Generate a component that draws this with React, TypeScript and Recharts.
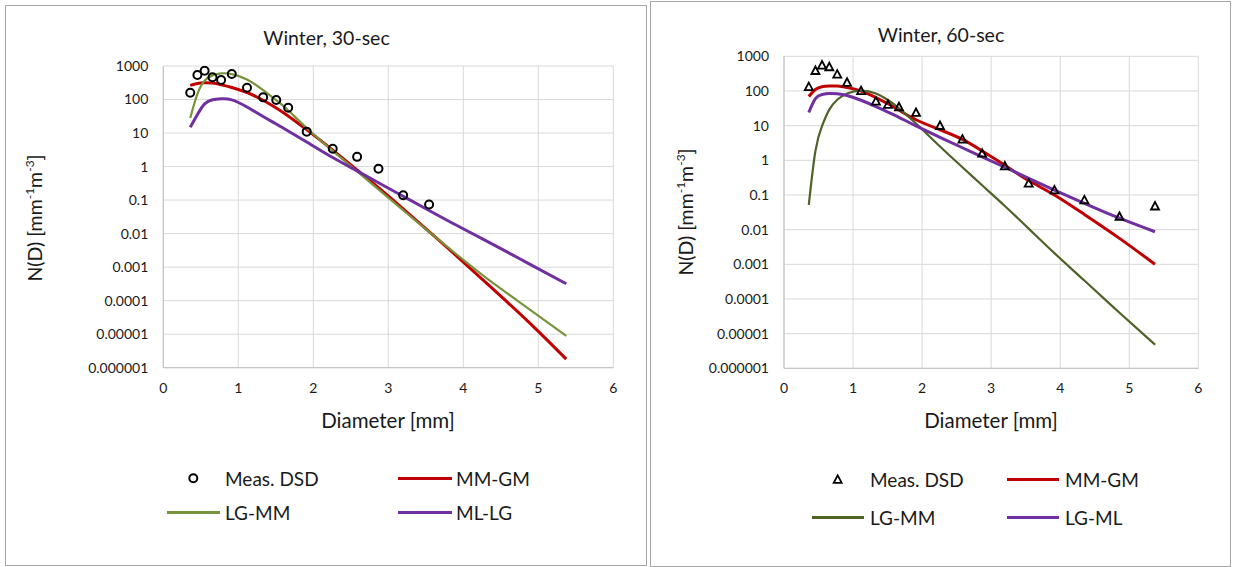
import React from "react";
import { ComposedChart, Line, Scatter, XAxis, YAxis, CartesianGrid } from "recharts";

// Joss-Waldvogel bin centres [mm]
const diameters = [0.359, 0.455, 0.551, 0.656, 0.771, 0.913, 1.116, 1.331, 1.506, 1.665, 1.912, 2.259, 2.584, 2.869, 3.198, 3.544, 3.916, 4.35, 4.859, 5.373];

// Winter, 30-sec
const meas30 = [160, 540, 720, 460, 380, 580, 225, 116, 97, 57, 11, 3.4, 1.95, 0.86, 0.14, 0.074];
const mmgm30 = [263, 302, 316, 309, 275, 229, 162, 95.5, 56, 32.4, 12.6, 3.1, 0.79, 0.234, 0.055, 0.0115, 0.0021, 0.000275, 0.0000245, 0.0000018];
const lgmm30 = [28, 148, 363, 525, 603, 575, 398, 190, 95, 48, 14.1, 2.95, 0.72, 0.21, 0.05, 0.0112, 0.00234, 0.0004, 0.00006, 0.0000089];
const mllg30 = [14.8, 35.5, 74, 98, 105, 98, 60, 31, 18.6, 11.5, 5.4, 1.86, 0.74, 0.33, 0.13, 0.049, 0.0174, 0.0054, 0.00132, 0.00032];
const names30 = ["Meas. DSD", "MM-GM", "LG-MM", "ML-LG"];

// Winter, 60-sec
const meas60 = [133, 390, 560, 500, 307, 178, 102, 51, 41, 35, 24, 10.1, 4.1, 1.6, 0.69, 0.22, 0.14, 0.072, 0.024, 0.048];
const mmgm60 = [69, 110, 132, 138, 138, 126, 100, 64.6, 42.7, 28.2, 14.8, 7.6, 4.0, 1.86, 0.72, 0.26, 0.1, 0.0275, 0.0056, 0.001];
const lgmm60 = [0.052, 1.86, 9.8, 29, 56, 85, 102, 85, 55, 31.6, 11.5, 2.5, 0.63, 0.19, 0.048, 0.0107, 0.0021, 0.00034, 0.00004, 0.0000048];
const lgml60 = [24, 60, 79, 85, 83, 74, 54, 35.5, 24.5, 17.4, 9.8, 4.6, 2.3, 1.26, 0.63, 0.3, 0.138, 0.0575, 0.0214, 0.0087];
const names60 = ["Meas. DSD", "MM-GM", "LG-MM", "LG-ML"];

const xTicks = [0, 1, 2, 3, 4, 5, 6];
const yTicks = [0.000001, 0.00001, 0.0001, 0.001, 0.01, 0.1, 1, 10, 100, 1000];
const yTickLabels = ["0.000001", "0.00001", "0.0001", "0.001", "0.01", "0.1", "1", "10", "100", "1000"];

const FONT = "Lato, 'Open Sans', sans-serif";
const TXT = "#1a1a1a";
const RED = "#C00000";
const PURPLE = "#7030A0";

const Ring = (p: any) => <circle cx={p.cx} cy={p.cy} r={4} fill="none" stroke="#000" strokeWidth={2} />;
const Tri = (p: any) => (
  <path d={`M${p.cx},${p.cy - 4} L${p.cx + 4},${p.cy + 3.5} L${p.cx - 4},${p.cy + 3.5} Z`} fill="none" stroke="#000" strokeWidth={1.8} />
);

type Cfg = {
  title: string;
  meas: number[];
  fits: number[][];
  names: string[];
  green: string;
  greenWidth: number;
  marker: "ring" | "tri";
  box: { left: number; top: number; width: number; height: number };
  plot: { left: number; top: number; width: number; height: number };
  titlePos: [number, number];
  xTitlePos: [number, number];
  yTitlePos: [number, number];
  legend: { rows: [number, number]; col1: [number, number, number]; col2: [number, number, number] };
};

function Swatch({ x1, x2, y, color, w }: { x1: number; x2: number; y: number; color: string; w: number }) {
  return <div style={{ position: "absolute", left: x1, top: y - w / 2, width: x2 - x1, height: w, background: color }} />;
}

function Label({ x, y, text, size, anchor = "middle" }: { x: number; y: number; text: React.ReactNode; size: number; anchor?: string }) {
  const tx = anchor === "middle" ? "-50%" : "0";
  return (
    <div style={{ position: "absolute", left: x, top: y, transform: `translate(${tx},-50%)`, fontSize: size, lineHeight: 1, whiteSpace: "nowrap", color: TXT }}>
      {text}
    </div>
  );
}

function DsdChart({ cfg }: { cfg: Cfg }) {
  const cw = cfg.box.width - 2;
  const ch = cfg.box.height - 2;
  const data = diameters.map((d, i) => ({ d, a: cfg.fits[0][i], b: cfg.fits[1][i], c: cfg.fits[2][i] }));
  const meas = cfg.meas.map((m, i) => ({ d: diameters[i], m }));
  const p = cfg.plot;
  const margin = { top: p.top, left: 0, right: cw - p.left - p.width, bottom: ch - p.top - p.height - 30 };
  const lg = cfg.legend;
  return (
    <div
      style={{
        position: "absolute",
        left: cfg.box.left,
        top: cfg.box.top,
        width: cfg.box.width,
        height: cfg.box.height,
        boxSizing: "border-box",
        border: "1px solid #a6a6a6",
        background: "#fff",
      }}
    >
      <ComposedChart width={cw} height={ch} data={data} margin={margin}>
        <CartesianGrid stroke="#d9d9d9" strokeWidth={1} />
        <XAxis
          type="number"
          dataKey="d"
          domain={[0, 6]}
          ticks={xTicks}
          allowDataOverflow
          height={30}
          tickLine={false}
          axisLine={{ stroke: "#bfbfbf" }}
          tickMargin={9}
          tick={{ fill: TXT, fontSize: 14, fontFamily: FONT }}
        />
        <YAxis
          scale="log"
          domain={[0.000001, 1000]}
          ticks={yTicks}
          allowDataOverflow
          width={p.left}
          tickLine={false}
          axisLine={{ stroke: "#bfbfbf" }}
          tickMargin={9}
          tickFormatter={(v: number) => yTickLabels[yTicks.indexOf(v)] ?? String(v)}
          tick={{ fill: TXT, fontSize: 14, fontFamily: FONT }}
        />
        <Scatter data={meas} dataKey="m" isAnimationActive={false} shape={cfg.marker === "ring" ? Ring : Tri} />
        <Line type="natural" dataKey="a" stroke={RED} strokeWidth={3} dot={false} isAnimationActive={false} />
        <Line type="natural" dataKey="b" stroke={cfg.green} strokeWidth={cfg.greenWidth} dot={false} isAnimationActive={false} />
        <Line type="natural" dataKey="c" stroke={PURPLE} strokeWidth={3} dot={false} isAnimationActive={false} />
      </ComposedChart>

      <Label x={cfg.titlePos[0]} y={cfg.titlePos[1]} text={cfg.title} size={19.5} />
      <Label x={cfg.xTitlePos[0]} y={cfg.xTitlePos[1]} text="Diameter [mm]" size={20.5} />
      <div
        style={{
          position: "absolute",
          left: cfg.yTitlePos[0],
          top: cfg.yTitlePos[1],
          transform: "translate(-50%,-50%) rotate(-90deg)",
          fontSize: 19.5,
          lineHeight: 1,
          whiteSpace: "nowrap",
          color: TXT,
        }}
      >
        N(D) [mm<sup style={{ fontSize: 12 }}>-1</sup>m<sup style={{ fontSize: 12 }}>-3</sup>]
      </div>

      {/* legend */}
      <svg style={{ position: "absolute", left: 0, top: 0 }} width={cw} height={ch} pointerEvents="none">
        {cfg.marker === "ring" ? Ring({ cx: lg.col1[0], cy: lg.rows[0] }) : Tri({ cx: lg.col1[0], cy: lg.rows[0] })}
      </svg>
      <Label x={lg.col1[2]} y={lg.rows[0]} text={cfg.names[0]} size={19} anchor="start" />
      <Swatch x1={lg.col2[0]} x2={lg.col2[1]} y={lg.rows[0]} color={RED} w={3} />
      <Label x={lg.col2[2]} y={lg.rows[0]} text={cfg.names[1]} size={19} anchor="start" />
      <Swatch x1={lg.col1[0] - 26} x2={lg.col1[1]} y={lg.rows[1]} color={cfg.green} w={cfg.greenWidth + 0.5} />
      <Label x={lg.col1[2]} y={lg.rows[1]} text={cfg.names[2]} size={19} anchor="start" />
      <Swatch x1={lg.col2[0]} x2={lg.col2[1]} y={lg.rows[1]} color={PURPLE} w={3} />
      <Label x={lg.col2[2]} y={lg.rows[1]} text={cfg.names[3]} size={19} anchor="start" />
    </div>
  );
}

const left: Cfg = {
  title: "Winter, 30-sec",
  meas: meas30,
  fits: [mmgm30, lgmm30, mllg30],
  names: names30,
  green: "#77933C",
  greenWidth: 2.2,
  marker: "ring",
  box: { left: 5, top: 5, width: 642, height: 561 },
  plot: { left: 157.3, top: 60, width: 450, height: 301.7 },
  titlePos: [320.5, 32],
  xTitlePos: [382, 413.5],
  yTitlePos: [28, 212],
  legend: { rows: [472.3, 506.3], col1: [187.3, 214, 219], col2: [392.3, 445.7, 450] },
};

const right: Cfg = {
  title: "Winter, 60-sec",
  meas: meas60,
  fits: [mmgm60, lgmm60, lgml60],
  names: names60,
  green: "#4F6228",
  greenWidth: 2.2,
  marker: "tri",
  box: { left: 650, top: 1, width: 581, height: 566 },
  plot: { left: 133, top: 54.3, width: 414.3, height: 312 },
  titlePos: [290, 33],
  xTitlePos: [340, 418],
  yTitlePos: [33.5, 209.6],
  legend: { rows: [477.3, 515.3], col1: [186.7, 213.3, 219], col2: [355.7, 408, 414] },
};

export default function App() {
  return (
    <div style={{ position: "absolute", left: 0, top: 0, width: 1233, height: 567, background: "#fff", fontFamily: FONT }}>
      <DsdChart cfg={left} />
      <DsdChart cfg={right} />
    </div>
  );
}
